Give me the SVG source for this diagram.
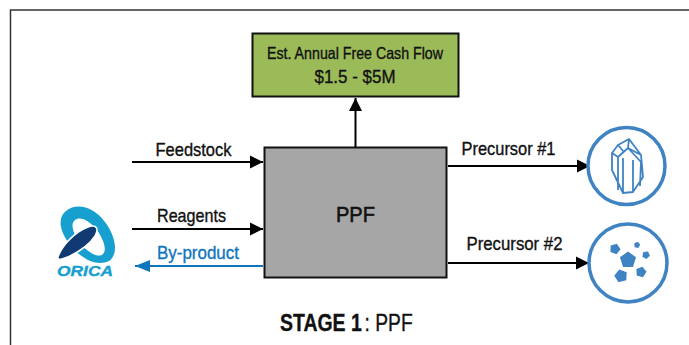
<svg xmlns="http://www.w3.org/2000/svg" width="689" height="345" viewBox="0 0 689 345">
<defs>
<marker id="ak" markerUnits="userSpaceOnUse" markerWidth="14" markerHeight="14" refX="13" refY="7" orient="auto"><path d="M0 0.5L13 7L0 13.500Z" fill="#000"/></marker>
<marker id="ab" markerUnits="userSpaceOnUse" markerWidth="16" markerHeight="14" refX="15" refY="7" orient="auto"><path d="M0 1L15 7L0 13Z" fill="#0f75bd"/></marker>
<path id="pent" d="M0 -1L.95 -.31L.59 .81L-.59 .81L-.95 -.31Z" fill="#3f83c3"/>
</defs>
<style>
text{font-family:"Liberation Sans",Arial,sans-serif;fill:#111;stroke:#111;stroke-width:.35}
.l{font-size:18.500px;text-anchor:middle}
.c{stroke:#000;stroke-width:2;fill:none;marker-end:url(#ak)}
.ring{fill:#fff;stroke:#3f83c3;stroke-width:3.500}
.gem{fill:none;stroke:#3f83c3;stroke-width:1.800;stroke-linejoin:round}
</style>
<rect width="689" height="345" fill="#fff"/>
<path id="frame" d="M10.500 345V10H689" fill="none" stroke="#333" stroke-width="1.500"/>
<g id="fcf">
<rect x="252.500" y="33.500" width="206" height="63" fill="#9bbb59" stroke="#111" stroke-width="2"/>
<text x="355" y="59" text-anchor="middle" font-size="16.500" textLength="176" lengthAdjust="spacingAndGlyphs">Est. Annual Free Cash Flow</text>
<text x="355" y="83" text-anchor="middle" font-size="19" textLength="81" lengthAdjust="spacingAndGlyphs">$1.5 - $5M</text>
</g>
<g id="ppf">
<rect x="264.500" y="147.500" width="182" height="130" fill="#a6a6a6" stroke="#111" stroke-width="2"/>
<text x="355.500" y="222" text-anchor="middle" font-size="22" textLength="39" lengthAdjust="spacingAndGlyphs" style="stroke-width:.6">PPF</text>
</g>
<g id="connectors">
<path class="c" d="M355.500 147V98"/>
<path class="c" d="M132 162H263"/>
<path class="c" d="M132 229H263"/>
<path d="M263 266H135" fill="none" stroke="#0f75bd" stroke-width="2" marker-end="url(#ab)"/>
<path class="c" d="M448 166H590"/>
<path class="c" d="M448 263H589"/>
</g>
<g id="labels">
<text class="l" x="193.500" y="156" textLength="76" lengthAdjust="spacingAndGlyphs">Feedstock</text>
<text class="l" x="191.500" y="222" textLength="69" lengthAdjust="spacingAndGlyphs">Reagents</text>
<text class="l" x="198" y="259" textLength="82" lengthAdjust="spacingAndGlyphs" style="fill:#0f75bd;stroke:#0f75bd">By-product</text>
<text class="l" x="508.500" y="155" textLength="94" lengthAdjust="spacingAndGlyphs">Precursor #1</text>
<text class="l" x="514.500" y="250" textLength="96" lengthAdjust="spacingAndGlyphs">Precursor #2</text>
</g>
<g id="orica">
<path fill="#17a0cf" fill-rule="evenodd" d="M66 211C77 202 94 207 105 222C117 238 118 255 109 261C97 267 80 259 68 242C59 229 58 217 66 211ZM75 220C70 224 73 233 80 243C89 254 99 258 103 254C107 250 104 240 97 230C89 220 80 216 75 220Z"/>
<path d="M58 257C62 245 75 232 88 227C97 224 99 229 95 236C90 244 80 251 70 256C63 259 57 261 58 257Z" fill="#123a72" stroke="#fff" stroke-width="1.500"/>
<text x="85" y="276" text-anchor="middle" font-size="15" font-weight="700" font-style="italic" textLength="56" lengthAdjust="spacingAndGlyphs" style="fill:#17a0cf;stroke:#17a0cf">ORICA</text>
</g>
<g id="crystal">
<circle cx="626.500" cy="166" r="38.500" class="ring"/>
<path class="gem" d="M612 153L618 145L629 139L641 155L643 177L633 192L623 193L612 170ZM612 153L618 157L618 190M618 157L628 148L641 162L640 186M618 145L624 152M629 139L628 148M628 148L641 155M623 158L623 193M633 160L633 192"/>
</g>
<g id="particles">
<circle cx="628" cy="263" r="39" class="ring"/>
<use href="#pent" transform="translate(628 260) scale(8.500)"/>
<use href="#pent" transform="translate(615 249) rotate(20) scale(5.500)"/>
<use href="#pent" transform="translate(637 245) rotate(10) scale(3.200)"/>
<use href="#pent" transform="translate(646 255) rotate(30) scale(4)"/>
<use href="#pent" transform="translate(641 272) rotate(15) scale(5.500)"/>
<use href="#pent" transform="translate(621 276) rotate(-15) scale(6.800)"/>
</g>
<g id="title">
<text transform="translate(280 331) scale(.81 1)" font-size="24" font-weight="700">STAGE 1</text>
<text transform="translate(364.500 331) scale(.82 1)" font-size="23.500">: PPF</text>
</g>
</svg>
